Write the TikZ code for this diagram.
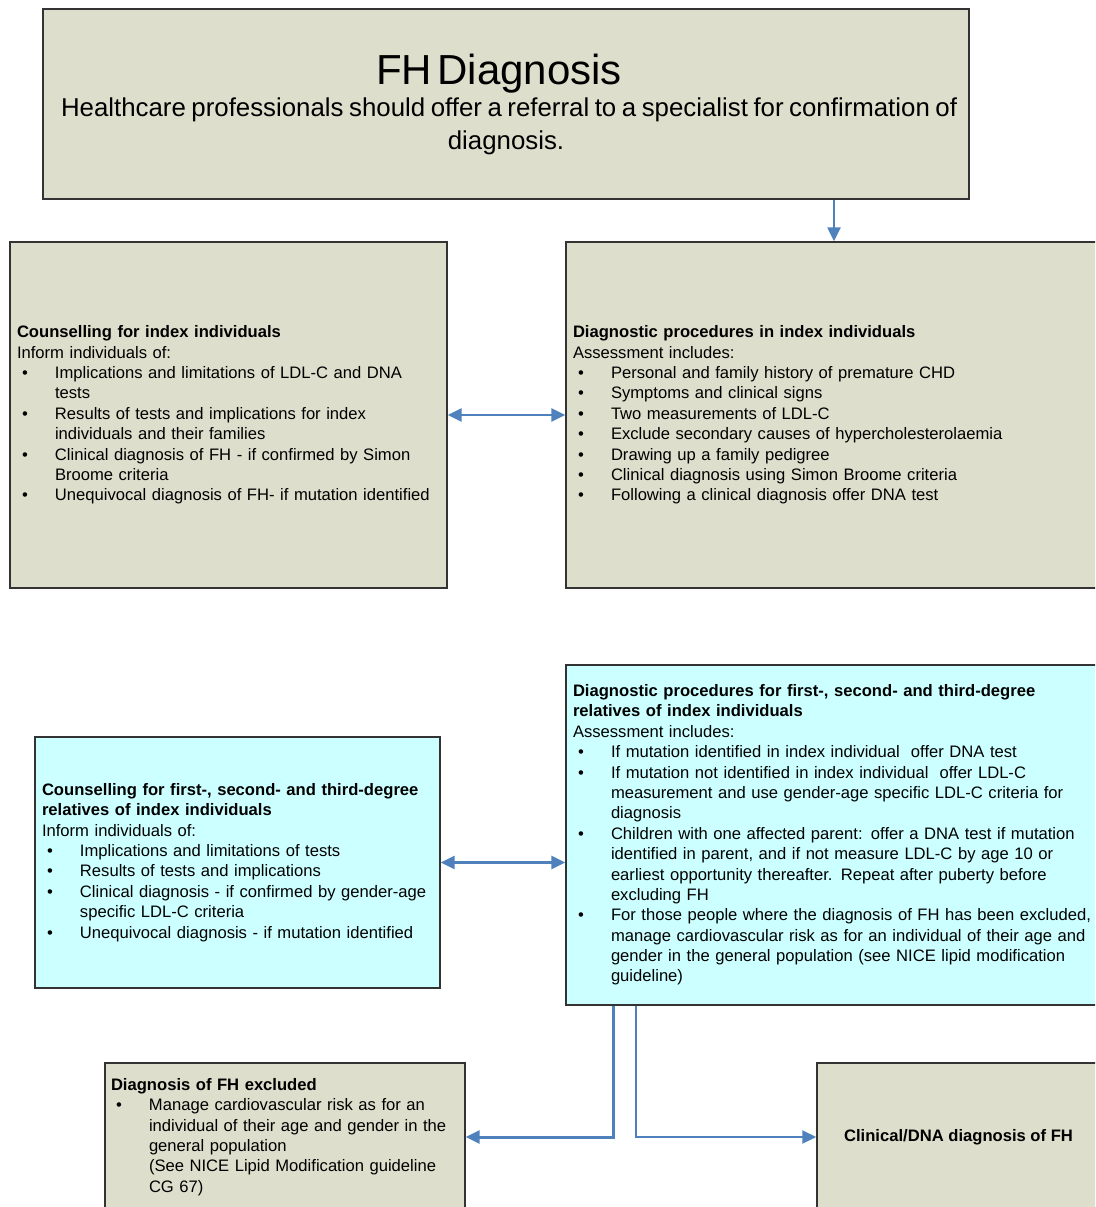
\documentclass[tikz,border=0pt]{standalone}
\usepackage{fontspec}
\setmainfont{Liberation Sans}
\usetikzlibrary{arrows.meta,positioning,calc}
\definecolor{fhKhaki}{HTML}{DDDECB}
\definecolor{fhCyan}{HTML}{CCFFFF}
\definecolor{fhBlue}{HTML}{4F81BD}
\definecolor{fhLine}{HTML}{333333}
\newcommand{\fhbody}{\fontsize{9.45}{11.6}\selectfont}
\newcommand{\fhitem}[1]{\par\noindent\hangindent=0.76cm\hangafter=1%
  \makebox[0.76cm][l]{\hspace{0.1cm}\textbullet}#1\par}
\tikzset{
  >={Triangle[length=2.8mm,width=2.6mm]},
  panel/.style={draw=fhLine, line width=0.8pt, fill=fhKhaki, inner xsep=0.14cm,
              inner ysep=0pt, align=left, font=\fhbody},
  relpanel/.style={panel, fill=fhCyan},
  link/.style={<->, draw=fhBlue, line width=1.7pt},
  flow/.style={->, draw=fhBlue, line width=1.4pt},
}

\begin{document}
\begin{tikzpicture}
  \useasboundingbox (0,0) rectangle (21.9,-24.14);
  \clip (0,0) rectangle (21.9,-24.14);
  % referral
  \node[panel, minimum width=18.52cm, minimum height=3.8cm, text width=18.2cm, align=center]
    (fhdx) at (10.12,-2.08)
    {{\fontsize{23.9}{28}\selectfont FH Diagnosis\hspace*{0.28cm}\par}
     {\fontsize{14.7}{18.5}\selectfont\hspace*{0.2cm}Healthcare professionals should offer a referral to a specialist for confirmation of\newline diagnosis.\par}};
  % index individuals
  \node[panel, minimum width=8.74cm, minimum height=6.92cm, text width=8.46cm]
    (cidx) at (4.57,-8.30)
    {\textbf{Counselling for index individuals}\par
     Inform individuals of:
     \fhitem{Implications and limitations of LDL-C and DNA\newline tests}
     \fhitem{Results of tests and implications for index\newline individuals and their families}
     \fhitem{Clinical diagnosis of FH - if confirmed by Simon\newline Broome criteria}
     \fhitem{Unequivocal diagnosis of FH- if mutation identified}};
  \node[panel, minimum width=10.72cm, minimum height=6.92cm, text width=10.44cm]
    (didx) at (16.68,-8.30)
    {\textbf{Diagnostic procedures in index individuals}\par
     Assessment includes:
     \fhitem{Personal and family history of premature CHD}
     \fhitem{Symptoms and clinical signs}
     \fhitem{Two measurements of LDL-C}
     \fhitem{Exclude secondary causes of hypercholesterolaemia}
     \fhitem{Drawing up a family pedigree}
     \fhitem{Clinical diagnosis using Simon Broome criteria}
     \fhitem{Following a clinical diagnosis offer DNA test}};
  % relatives
  \node[relpanel, minimum width=8.10cm, minimum height=5.02cm, text width=7.82cm]
    (crel) at (4.75,-17.25)
    {\textbf{Counselling for first-, second- and third-degree\newline relatives of index individuals}\par
     Inform individuals of:
     \fhitem{Implications and limitations of tests}
     \fhitem{Results of tests and implications}
     \fhitem{Clinical diagnosis - if confirmed by gender-age\newline specific LDL-C criteria}
     \fhitem{Unequivocal diagnosis - if mutation identified}};
  \node[relpanel, minimum width=10.88cm, minimum height=6.80cm, text width=10.6cm]
    (drel) at (16.76,-16.70)
    {\textbf{Diagnostic procedures for first-, second- and third-degree\newline relatives of index individuals}\par
     Assessment includes:
     \fhitem{If mutation identified in index individual\ \ offer DNA test}
     \fhitem{If mutation not identified in index individual\ \ offer LDL-C\newline measurement and use gender-age specific LDL-C criteria for\newline diagnosis}
     \fhitem{Children with one affected parent: offer a DNA test if mutation\newline identified in parent, and if not measure LDL-C by age 10 or\newline earliest opportunity thereafter. Repeat after puberty before\newline excluding FH}
     \fhitem{For those people where the diagnosis of FH has been excluded,\newline manage cardiovascular risk as for an individual of their age and\newline gender in the general population (see NICE lipid modification\newline guideline)}};
  % outcomes
  \node[panel, minimum width=7.2cm, minimum height=2.96cm, text width=6.96cm, inner xsep=0.12cm]
    (excl) at (5.70,-22.74)
    {\textbf{Diagnosis of FH excluded}
     \fhitem{Manage cardiovascular risk as for an\newline individual of their age and gender in the\newline general population\newline (See NICE Lipid Modification guideline\newline CG 67)}};
  \node[panel, minimum width=5.66cm, minimum height=2.96cm, align=center]
    (conf) at (19.17,-22.74) {\textbf{Clinical/DNA diagnosis of FH}};

  \draw[flow] (didx.north |- fhdx.south) -- (didx.north);
  \draw[link] (cidx.east) -- (didx.west);
  \draw[link] (crel.east) -- (crel.east -| drel.west);
  \draw[flow, line width=1.7pt] ($(drel.south west)+(0.96,0)$) |- (excl.east);
  \draw[flow, line width=1.1pt] ($(drel.south west)+(1.42,0)$) |- (conf.west);
\end{tikzpicture}
\end{document}
